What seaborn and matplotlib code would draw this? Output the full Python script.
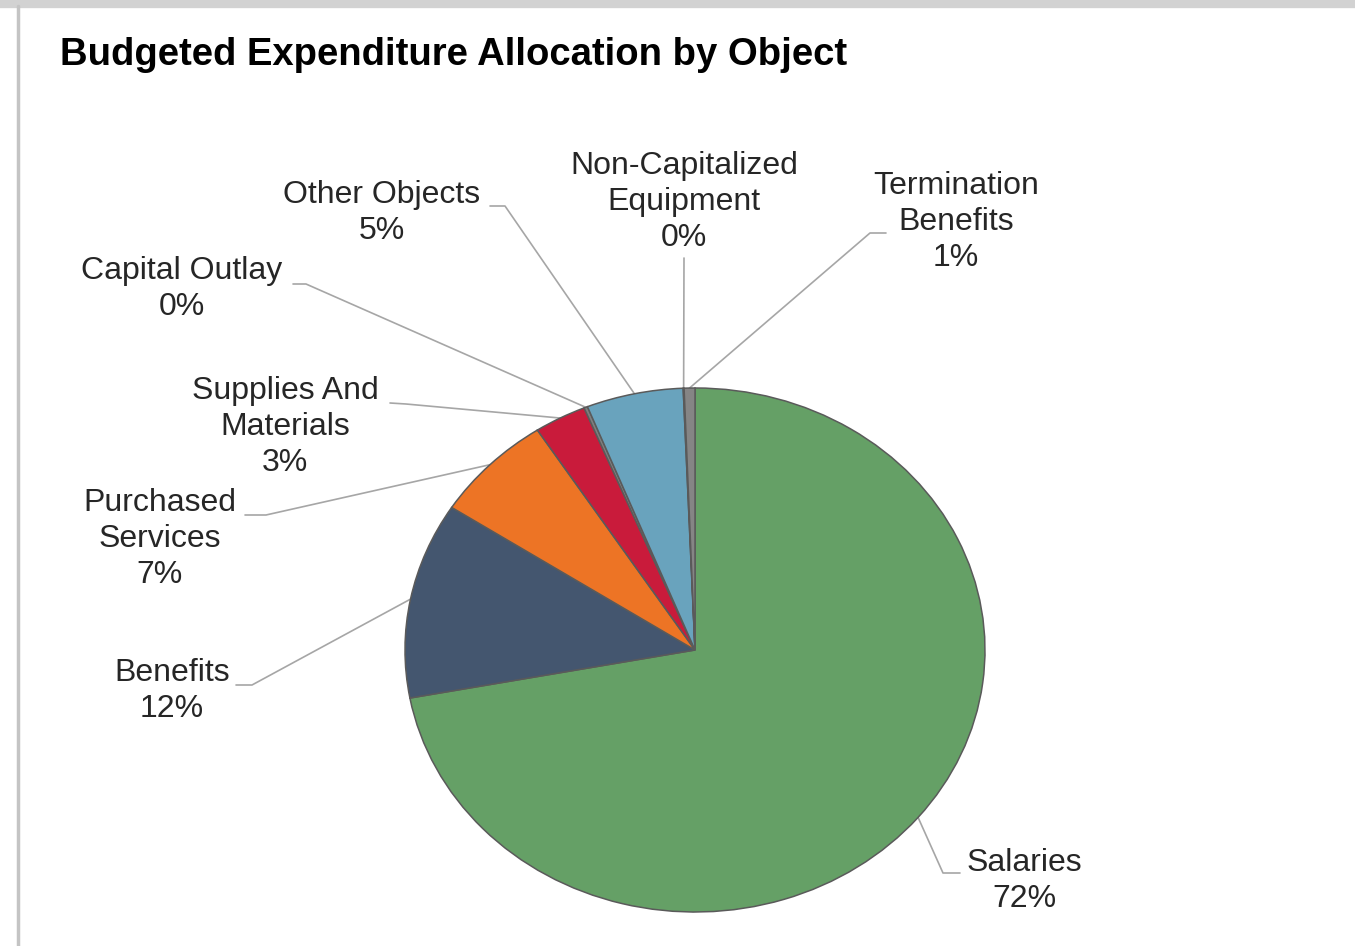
import numpy as np
import matplotlib
matplotlib.use("Agg")
import matplotlib.pyplot as plt
import seaborn as sns

# data (percent of budget), clockwise from 12 o'clock
categories = ["Salaries", "Benefits", "Purchased\nServices", "Supplies And\nMaterials",
              "Capital Outlay", "Other Objects", "Non-Capitalized\nEquipment",
              "Termination\nBenefits"]
shares = [72.1, 12.1, 6.7, 2.9, 0.2, 5.4, 0.05, 0.6]
colors = ["#65a066", "#44566f", "#ed7425", "#c91b3b", "#7f7f7f", "#69a3bd",
          "#7f7f7f", "#858585"]

# label layout in image pixels: text centre, then leader start and elbow
label_xy = [(1024, 881), (172, 691), (160, 539), (285, 427),
            (182, 289), (382, 213), (684, 202), (956, 222)]
leader_xy = [[(960, 873), (943, 873)], [(236, 685), (252, 685)],
             [(245, 515), (266, 515)], [(390, 403), (406, 404)],
             [(293, 284), (306, 284)], [(490, 206), (505, 206)],
             [(684, 258), (684, 258)], [(886, 233), (870, 233)]]

W, H = 1355, 946
CX, CY, RX, RY = 695, 650, 290, 262


def to_data(px, py):
    return (px - CX) / RX, (CY - py) / RY


sns.set_theme(style="white")
plt.rcParams['font.family'] = ['Liberation Sans', 'DejaVu Sans']

fig = plt.figure(figsize=(W / 100, H / 100), dpi=100)
ax = fig.add_axes([0, 0, 1, 1])

wedges, _ = ax.pie(shares, colors=colors, startangle=90, counterclock=False,
                   radius=1, wedgeprops=dict(edgecolor="#5a5a5a", linewidth=1.1))
ax.set_aspect("auto")
ax.set_xlim((0 - CX) / RX, (W - CX) / RX)
ax.set_ylim((CY - H) / RY, CY / RY)
ax.axis("off")

for w, name, val, (tx, ty), pts in zip(wedges, categories, shares, label_xy, leader_xy):
    ang = np.deg2rad((w.theta1 + w.theta2) / 2)
    end = (np.cos(ang), np.sin(ang))
    p0 = to_data(*pts[0])
    p1 = to_data(*pts[1])
    ax.plot([p0[0], p1[0], end[0]], [p0[1], p1[1], end[1]],
            color="#a6a6a6", lw=1.2, zorder=0.5)
    x, y = to_data(tx, ty)
    ax.text(x, y, f"{name}\n{val:.0f}%", ha="center", va="center",
            fontsize=23, color="#262626", linespacing=1.27)

fig.text(60 / W, 1 - 55 / H, "Budgeted Expenditure Allocation by Object",
         fontsize=27.5, fontweight="bold", color="black", va="center", ha="left")

# chart frame (top and left edges of the screenshot)
fig.add_artist(plt.Line2D([0, 1], [1 - 4 / H, 1 - 4 / H], color="#d2d2d2", lw=6))
fig.add_artist(plt.Line2D([18 / W, 18 / W], [0, 1 - 6 / H], color="#c4c4c4", lw=2.5))

fig.savefig("out.png", dpi=100)
